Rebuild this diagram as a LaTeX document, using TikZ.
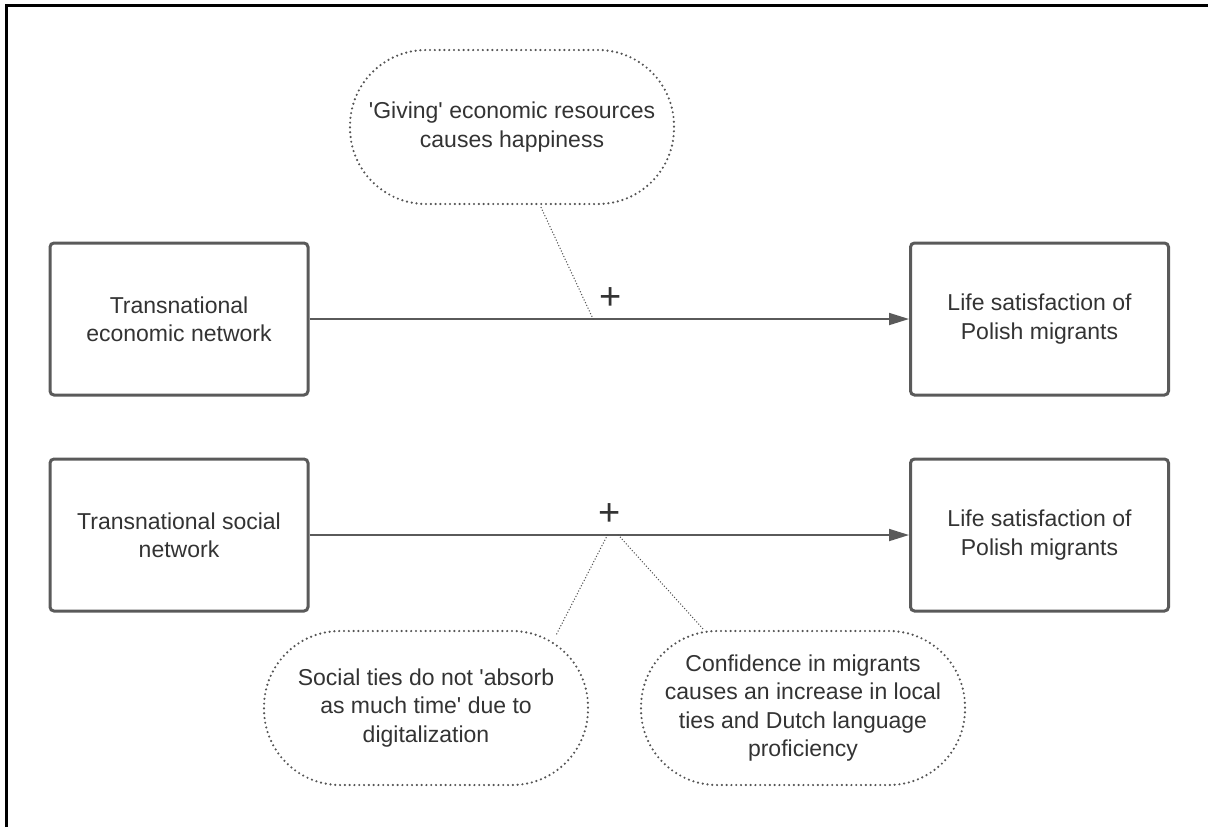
\documentclass[tikz,border=0pt]{standalone}
\usepackage{fontspec}
\setmainfont{Liberation Sans}
\usetikzlibrary{arrows.meta,positioning,calc}
\definecolor{InkGrey}{RGB}{51,51,51}
\definecolor{EdgeGrey}{RGB}{90,90,90}
\definecolor{DotGrey}{RGB}{85,85,85}

\begin{document}
\begin{tikzpicture}[x=0.5pt, y=-0.5pt,
  every node/.style={align=center, text=InkGrey, font=\fontsize{11.5}{14.2}\selectfont},
  varbox/.style={draw=EdgeGrey, line width=1.5pt, rounded corners=2pt, minimum width=129pt, minimum height=76pt, inner sep=0pt},
  callout/.style={draw=DotGrey, line width=1.2pt, dash pattern=on 0pt off 2.4pt, line cap=round, rounded corners=38pt, minimum width=162pt, minimum height=77pt, inner sep=0pt},
  link/.style={draw=EdgeGrey, line width=0.9pt, -{Triangle[length=10pt, width=6pt]}},
  tail/.style={draw=DotGrey, line width=0.75pt, dash pattern=on 0pt off 1.5pt, line cap=round},
  signlabel/.style={font=\fontsize{19}{20}\selectfont, above=1pt}]
          \useasboundingbox (0,0) rectangle (1208,827);
          % Outer frame (cut off at right and bottom)
          \draw[black, line width=1.4pt] (6.5,827) -- (6.5,5.5) -- (1208,5.5);
          % Network variables and outcome
          \node[varbox] (econ) at (179,319) {Transnational\\economic network};
          \node[varbox] (social) at (179,535) {Transnational social\\network};
          \node[varbox] (life1) at (1039.5,319) {Life satisfaction of\\Polish migrants};
          \node[varbox] (life2) at (1039.5,535) {Life satisfaction of\\Polish migrants};
          % Positive effects
          \draw[link] (econ) -- node[signlabel, pos=0.502] (plus1) {+} (life1);
          \draw[link] (social) -- node[signlabel, pos=0.5] (plus2) {+} (life2);
          % Mechanism callouts
          \node[callout] (giving) at (512,127) {\textquotesingle Giving\textquotesingle{} economic resources\\causes happiness};
          \node[callout] (ties) at (426,708) {Social ties do not \textquotesingle absorb\\as much time\textquotesingle{} due to\\digitalization};
          \node[callout] (conf) at (803,708) {Confidence in migrants\\causes an increase in local\\ties and Dutch language\\proficiency};
          % Callout tails
          \coordinate (t1) at ($(econ.east)!0.473!(life1.west)$);
          \coordinate (t2) at ($(social.east)!0.497!(life2.west)$);
          \coordinate (t3) at ($(social.east)!0.515!(life2.west)$);
          \draw[tail] (t1) -- ($(giving.south)+(28,0)$);
          \draw[tail] (t2) -- ($(ties.north east)+(-33,5)$);
          \draw[tail] (t3) -- ($(conf.north west)+(64,0)$);
        \end{tikzpicture}
\end{document}
